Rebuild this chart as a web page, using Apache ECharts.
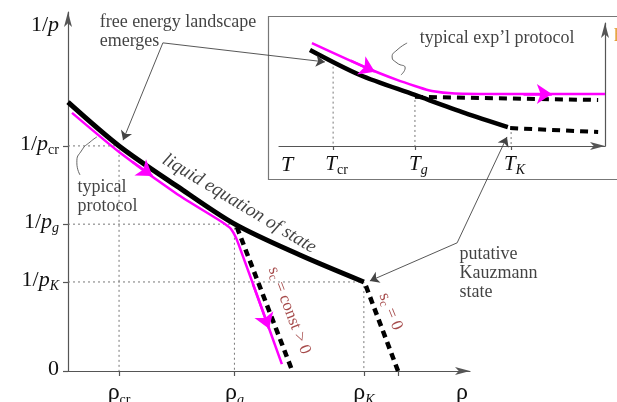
<!DOCTYPE html>
<html><head><meta charset="utf-8">
<script src="https://cdn.jsdelivr.net/npm/echarts@6.0.0/dist/echarts.min.js"></script>
<style>html,body{margin:0;padding:0;background:#fff;overflow:hidden}#c{width:617px;height:402px}</style>
</head><body><div id="c"></div>
<script>
// ===== Main panel: density rho (x) vs inverse pressure 1/p (y), schematic units 0..100
const rhoTickValues  = [12.7, 41.4, 73.6, 82.1];
const rhoLabelValues = [12.7, 41.4, 73.6, 98.0];
const rhoLabels      = ['{g|ρ}{s|cr}', '{g|ρ}{si|g}', '{g|ρ}{si|K}', '{g|ρ}'];
const invPTickValues  = [0, 24.8, 40.9, 62.7];
const invPLabelValues = [0, 24.8, 40.9, 62.7, 95.8];
const invPLabels      = ['{n|0}', '{n|1/}{i|p}{si|K}', '{n|1/}{i|p}{si|g}', '{n|1/}{i|p}{s|cr}', '{n|1/}{i|p}'];

const liquidEOS       = [[0,74.9],[12.7,62.7],[27.1,51.5],[41.5,40.9],[57.7,32.3],[73.6,24.8]];
const typicalProtocol = [[1.0,71.9],[12.7,61.0],[27.1,49.3],[38.3,41.5],[40.5,39.6],[42.3,35.7],[53.2,1.9]];
const protocolArrows  = [[[16,58.3],[21,54.3]], [[46,24.2],[50,11.8]]];
const glassBranch     = [[42.0,40.1],[55.7,0.3]];
const kauzmannBranch  = [[74.1,23.7],[82.1,0]];
const mainGuides      = [[[0,62.7],[12.7,62.7],[12.7,0]], [[0,40.9],[41.4,40.9],[41.4,0]], [[0,24.8],[73.6,24.8],[73.6,0]]];
const pointerLines    = [[[23.6,91.4],[13.7,64.3]], [[23.6,91.4],[63.9,86.1]], [[96.8,35.7],[75.1,25.1]], [[96.8,35.7],[109.2,65.2]]];
const protocolSquiggle = [[3.0,54.6],[2.2,58.0],[3.5,61.6],[5.5,63.8],[7.2,65.2]];

// ===== Inset: temperature T (x, decreasing to the right) vs 1/p (y), schematic units 0..100
const TTickValues  = [83.4, 58.3, 28.8];
const TLabelValues = [97.5, 83.4, 58.3, 28.8];
const TLabels      = ['{i|T}', '{ti|T}{s|cr}', '{ti|T}{si|g}', '{ti|T}{si|K}'];
const insetEOS       = [[90.5,78.0],[75.2,57.7],[58.3,41.5],[42.9,26.8],[29.8,15.4]];
const insetGlass     = [[58.3,40.0],[2.1,37.4]];
const insetKauzmann  = [[29.1,14.6],[2.1,11.4]];
const insetProtocol  = [[89.9,83.7],[73.0,63.4],[63.8,53.7],[58.3,48.8],[53.1,44.7],[46.0,42.7],[32.2,42.3],[0,42.3]];
const insetArrows    = [[[78,69.4],[70.6,60.4]], [[25,42.3],[16.3,42.3]]];
const insetGuides    = [[[83.4,68.6],[83.4,0]], [[58.3,41.5],[58.3,0]], [[28.8,15.4],[28.8,0]]];
const expSquiggle    = [[60.7,83.7],[63.8,78],[65.3,72.4],[63.8,67.5],[61.3,63.4],[62.6,57.7]];

// ===== Text annotations
const mainNotes = [
  {text: 'free energy landscape\nemerges', at: [8.0, 99.6]},
  {text: 'typical\nprotocol', at: [2.5, 53.6]},
  {text: 'putative\nKauzmann\nstate', at: [97.5, 35.0]}
];
const mainRotNotes = [
  {text: '{it|liquid equation of state}', at: [42.6, 46.6], angle: -31},
  {text: '{r|s}{rs|c}{r| = const > 0}', at: [54.7, 16.7], angle: -69},
  {text: '{r|s}{rs|c}{r| = 0}', at: [79.9, 16.4], angle: -68}
];
const insetNotes = [
  {text: 'typical exp\u2019l protocol', at: [56.7, 94.5]}
];

const SERIF = '"Liberation Serif", "DejaVu Serif", serif';
const INK = '#111';
const AX = '#555';
const MAG = '#ff00ff';
const DARKRED = '#8e1b1b';

const rich = {
  n:  {fontFamily: SERIF, fontSize: 22, lineHeight: 22, padding: [0,0,4,0], color: INK},
  i:  {fontFamily: SERIF, fontSize: 22, lineHeight: 22, padding: [0,0,4,0], fontStyle: 'italic', color: INK},
  ti: {fontFamily: SERIF, fontSize: 21, lineHeight: 21, padding: [0,0,4,7], fontStyle: 'italic', color: INK},
  g:  {fontFamily: SERIF, fontSize: 24, lineHeight: 24, padding: [0,0,4,0], color: INK},
  s:  {fontFamily: SERIF, fontSize: 14, lineHeight: 14, verticalAlign: 'bottom', color: INK},
  si: {fontFamily: SERIF, fontSize: 14, lineHeight: 14, verticalAlign: 'bottom', fontStyle: 'italic', color: INK}
};
const noteRich = {
  it: {fontFamily: SERIF, fontSize: 19, fontStyle: 'italic', color: INK},
  r:  {fontFamily: SERIF, fontSize: 17, lineHeight: 17, padding: [0,0,3,0], color: DARKRED},
  rs: {fontFamily: SERIF, fontSize: 12, lineHeight: 12, verticalAlign: 'bottom', color: DARKRED}
};

function fmt(values, labels) {
  return function (v) { const k = values.indexOf(v); return k >= 0 ? labels[k] : ''; };
}
function lineSer(data, xi, opts) {
  return Object.assign({type: 'line', xAxisIndex: xi, yAxisIndex: xi, data: data, symbol: 'none',
    silent: true, animation: false}, opts);
}
function linesSer(paths, xi, poly, opts) {
  return Object.assign({type: 'lines', coordinateSystem: 'cartesian2d', xAxisIndex: xi, yAxisIndex: xi,
    polyline: poly, clip: false, silent: true, animation: false,
    data: paths.map(p => ({coords: p}))}, opts);
}
function notesSer(notes, xi, rotated) {
  return {
    type: 'scatter', xAxisIndex: xi, yAxisIndex: xi, clip: false, silent: true, animation: false,
    symbolSize: 1, itemStyle: {color: 'rgba(0,0,0,0)'}, z: 20,
    data: notes.map(n => ({value: n.at, label: rotated ?
      {show: true, formatter: n.text, position: 'inside', rotate: n.angle, align: 'center', verticalAlign: 'middle', rich: noteRich} :
      {show: true, formatter: n.text, position: [0, 0], align: 'left', verticalAlign: 'top',
       fontFamily: SERIF, fontSize: 18, lineHeight: 19, color: INK}}))
  };
}

const chart = echarts.init(document.getElementById('c'), null, {renderer: 'canvas'});
chart.setOption({
  backgroundColor: '#fff',
  animation: false,
  graphic: [{type: 'rect', z: -10, shape: {x: 268.5, y: 16.5, width: 360, height: 163},
    style: {fill: 'none', stroke: '#777', lineWidth: 1.2}}],
  grid: [
    {left: 68, top: 12, width: 402, height: 359, outerBoundsMode: 'none', containLabel: false},
    {left: 279, top: 23, width: 326, height: 123, outerBoundsMode: 'none', containLabel: false}
  ],
  xAxis: [
    {type: 'value', gridIndex: 0, min: 0, max: 100,
     axisLine: {show: true, lineStyle: {color: AX, width: 1.2}, symbol: ['none', 'arrow'], symbolSize: [6, 15]},
     axisTick: {show: true, customValues: rhoTickValues, length: 5, lineStyle: {color: AX, width: 1.2}},
     axisLabel: {show: true, customValues: rhoLabelValues, formatter: fmt(rhoLabelValues, rhoLabels), rich: rich, margin: 12},
     splitLine: {show: false}},
    {type: 'value', gridIndex: 1, min: 0, max: 100, inverse: true,
     axisLine: {show: true, lineStyle: {color: AX, width: 1.2}, symbol: ['none', 'arrow'], symbolSize: [6, 15]},
     axisTick: {show: true, customValues: TTickValues, length: 4, lineStyle: {color: AX, width: 1.2}},
     axisLabel: {show: true, customValues: TLabelValues, formatter: fmt(TLabelValues, TLabels), rich: rich, margin: 10},
     splitLine: {show: false}}
  ],
  yAxis: [
    {type: 'value', gridIndex: 0, min: 0, max: 100,
     axisLine: {show: true, lineStyle: {color: AX, width: 1.2}, symbol: ['none', 'arrow'], symbolSize: [6, 15]},
     axisTick: {show: true, customValues: invPTickValues, length: 5, lineStyle: {color: AX, width: 1.2}},
     axisLabel: {show: true, customValues: invPLabelValues, formatter: fmt(invPLabelValues, invPLabels), rich: rich, margin: 9},
     splitLine: {show: false}},
    {type: 'value', gridIndex: 1, min: 0, max: 100, position: 'right',
     name: 'h', nameLocation: 'end', nameGap: -22,
     nameTextStyle: {color: '#e39a2c', fontFamily: SERIF, fontSize: 18, align: 'left', padding: [0, 0, 0, 9]},
     axisLine: {show: true, lineStyle: {color: AX, width: 1.2}, symbol: ['none', 'arrow'], symbolSize: [6, 15]},
     axisTick: {show: false}, axisLabel: {show: false}, splitLine: {show: false}}
  ],
  series: [
    linesSer(mainGuides, 0, true, {lineStyle: {color: '#777', width: 1, type: [2, 3], opacity: 1}, z: 1}),
    linesSer(insetGuides, 1, true, {lineStyle: {color: '#777', width: 1, type: [2, 3], opacity: 1}, z: 1}),
    lineSer(glassBranch, 0, {lineStyle: {color: '#000', width: 4.5, type: [7, 5]}, z: 3}),
    lineSer(kauzmannBranch, 0, {lineStyle: {color: '#000', width: 4.5, type: [7, 5]}, z: 3}),
    lineSer(typicalProtocol, 0, {smooth: 0.2, lineStyle: {color: MAG, width: 2.5}, z: 4}),
    lineSer(liquidEOS, 0, {smooth: 0.3, lineStyle: {color: '#000', width: 5}, z: 5}),
    linesSer(protocolArrows, 0, false, {symbol: ['none', 'arrow'], symbolSize: [11, 15], lineStyle: {color: MAG, width: 2.5, opacity: 1}, z: 6}),
    lineSer(insetGlass, 1, {lineStyle: {color: '#000', width: 4, type: [8, 6]}, z: 3}),
    lineSer(insetKauzmann, 1, {lineStyle: {color: '#000', width: 4, type: [8, 6]}, z: 3}),
    lineSer(insetEOS, 1, {smooth: 0.3, lineStyle: {color: '#000', width: 4.5}, z: 5}),
    lineSer(insetProtocol, 1, {smooth: 0.3, lineStyle: {color: MAG, width: 2.5}, z: 6}),
    linesSer(insetArrows, 1, false, {symbol: ['none', 'arrow'], symbolSize: [11, 15], lineStyle: {color: MAG, width: 2.5, opacity: 1}, z: 7}),
    linesSer(pointerLines, 0, false, {symbol: ['none', 'arrow'], symbolSize: [5, 9], lineStyle: {color: '#444', width: 0.9, opacity: 1}, z: 8}),
    lineSer(protocolSquiggle, 0, {smooth: 0.6, lineStyle: {color: '#555', width: 0.9}, z: 8}),
    lineSer(expSquiggle, 1, {smooth: 0.6, lineStyle: {color: '#555', width: 0.9}, z: 8}),
    notesSer(mainNotes, 0, false),
    notesSer(mainRotNotes, 0, true),
    notesSer(insetNotes, 1, false)
  ]
});
</script></body></html>
